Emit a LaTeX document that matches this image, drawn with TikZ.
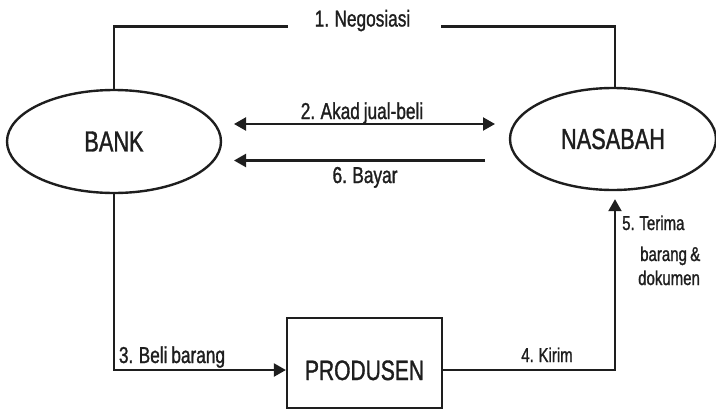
\documentclass[tikz,border=0pt]{standalone}
\usepackage{fontspec}
\setmainfont{Liberation Sans}[FakeStretch=0.75, FakeBold=1.2, WordSpace=0.8]
\usetikzlibrary{shapes.geometric,arrows.meta}
\definecolor{inkc}{HTML}{1E1E1E}

\begin{document}
\begin{tikzpicture}[x=1pt,y=-1pt,
  line/.style={draw=inkc, line width=2.2pt},
  tip/.style={-{Triangle[length=12pt,width=13pt]}},
  party/.style={ellipse, draw=inkc, line width=2.4pt, inner sep=0pt,
    text=inkc, font=\fontsize{29}{35}\selectfont},
  firm/.style={rectangle, draw=inkc, line width=2.2pt, inner sep=0pt,
    text=inkc, font=\fontsize{28}{34}\selectfont},
  lbl/.style={text=inkc, inner sep=0pt, anchor=base, font=\fontsize{23}{28}\selectfont},
  slbl/.style={text=inkc, inner sep=0pt, anchor=base west, font=\fontsize{20}{24}\selectfont},
]
\useasboundingbox (0,0) rectangle (716,410);

% parties
\node[party, minimum width=214pt, minimum height=103pt] (bank) at (114,141.5) {BANK};
\node[party, minimum width=206pt, minimum height=102pt] (nas) at (613,139) {NASABAH};
\node[firm, minimum width=155pt, minimum height=90pt, text height=34pt, text depth=0pt]
  (prod) at (364.5,363) {PRODUSEN};

% 1. negotiation line with a gap for its label
\coordinate (ngL) at (288,26.5);
\coordinate (ngR) at (441,26.5);
\node[lbl] (neg) at (362.5,26.5) {1. Negosiasi};
\draw[line] (bank.north) |- (ngL);
\draw[line] (ngR) -| ([xshift=2pt]nas.north);

% 2. sale contract (both ways)
\coordinate (akL) at (234,124);
\coordinate (akR) at (495,124);
\draw[line, {Triangle[length=12pt,width=13pt]}-{Triangle[length=12pt,width=13pt]}] (akL) -- (akR);
\node[lbl] (akad) at (362,119) {2. Akad jual-beli};

% 6. payment
\coordinate (byR) at (485,160.5);
\coordinate (byL) at (234,160.5);
\draw[line, tip] (byR) -- (byL);
\node[lbl] (bayar) at (365,183) {6. Bayar};

% 3. purchase from the producer
\draw[line, tip] (bank.south) |- ([yshift=-7pt]prod.west);
\node[lbl] (beli) at (172,363) {3. Beli barang};

% 4. delivery to the customer
\draw[line, tip] ([yshift=-7pt]prod.east) -| ([xshift=2pt,yshift=-8pt]nas.south);
\node[slbl, anchor=base] (kirim) at (547,362) {4. Kirim};

% 5. receipt of goods and documents
\node[slbl] (t1) at (622,230) {5. Terima};
\node[slbl] (t2) at (640,261) {barang \&};
\node[slbl] (t3) at (638,285) {dokumen};
\end{tikzpicture}
\end{document}
